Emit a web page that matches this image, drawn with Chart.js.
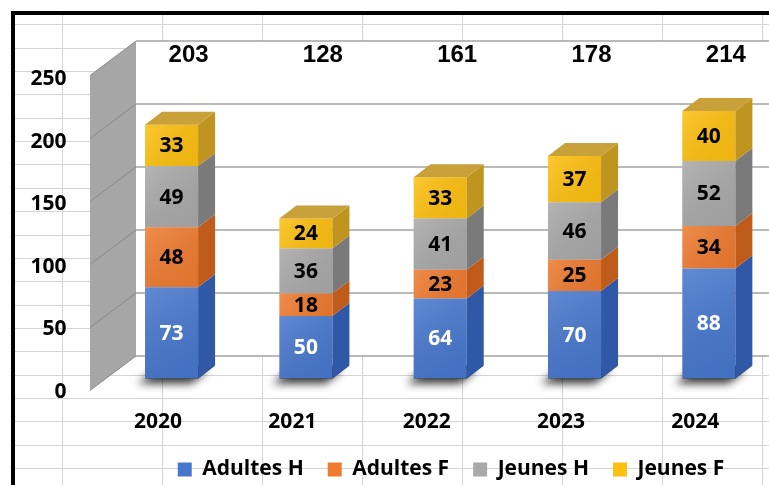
<!DOCTYPE html>
<html>
<head>
<meta charset="utf-8">
<script src="https://cdn.jsdelivr.net/npm/chart.js@4"></script>
<style>
  html, body { margin: 0; padding: 0; background: #fff; overflow: hidden; }
  #wrap { width: 769px; height: 485px; overflow: hidden; }
  canvas { display: block; }
</style>
</head>
<body>
<div id="wrap"><canvas id="myChart" width="902" height="490"></canvas></div>
<script>
const years = ['2020', '2021', '2022', '2023', '2024'];
const adultesH = [73, 50, 64, 70, 88];
const adultesF = [48, 18, 23, 25, 34];
const jeunesH = [49, 36, 41, 46, 52];
const jeunesF = [33, 24, 33, 37, 40];
const yTicks = [0, 50, 100, 150, 200, 250];

const FONT = '"Open Sans", sans-serif';
const fronts = ['#4777cc', '#ee7b30', '#a9a9a9', '#fdc010'];
const sides = ['#2f58a6', '#bf5c1b', '#7a7a7a', '#bf9520'];
const topFace = '#c9a13a';
const DX = 17, DY = -13;

// excel-ish background: sheet cells, frame, back wall, side wall
const backdrop = {
  id: 'backdrop',
  beforeDraw(chart) {
    const { ctx, chartArea: a } = chart;
    const y = chart.scales.y;
    const W = chart.width, H = chart.height;
    ctx.save();
    ctx.fillStyle = '#fff';
    ctx.fillRect(0, 0, W, H);

    ctx.strokeStyle = '#d4d4d4';
    ctx.lineWidth = 1;
    ctx.beginPath();
    for (let x = 62; x < W; x += 100) {
      ctx.moveTo(x + 0.5, 15);
      ctx.lineTo(x + 0.5, H);
    }
    for (let r = 1; 1 + r * 23.35 < H; r++) {
      const yy = Math.round(1 + r * 23.35) + 0.5;
      ctx.moveTo(15, yy);
      ctx.lineTo(W, yy);
    }
    ctx.stroke();

    ctx.fillStyle = '#000';
    ctx.fillRect(11, 11, W, 4);
    ctx.fillRect(11, 11, 4, H);

    const back = v => a.bottom - 22.5 + (y.getPixelForValue(v) - a.bottom) * 1.008;
    const xb = a.left + 31.6, xf = a.left - 14.4, wd = 34.5;
    const top = back(y.max), bot = back(y.min);

    ctx.fillStyle = '#fff';
    ctx.fillRect(xb, top, W - xb, bot - top);

    ctx.fillStyle = '#a6a6a6';
    ctx.beginPath();
    ctx.moveTo(xf, top + wd);
    ctx.lineTo(xb, top);
    ctx.lineTo(xb, bot);
    ctx.lineTo(xf, bot + wd);
    ctx.closePath();
    ctx.fill();

    y.ticks.forEach(t => {
      const yy = back(t.value);
      ctx.strokeStyle = '#a3a3a3';
      ctx.lineWidth = 1.6;
      ctx.beginPath();
      ctx.moveTo(xb, yy);
      ctx.lineTo(W, yy);
      ctx.stroke();
      ctx.strokeStyle = '#8c8c8c';
      ctx.lineWidth = 1;
      ctx.beginPath();
      ctx.moveTo(xf, yy + wd);
      ctx.lineTo(xb, yy);
      ctx.stroke();
    });
    ctx.restore();
  },
  beforeDatasetsDraw(chart) {
    // soft shadow on the floor under each column
    const ctx = chart.ctx;
    ctx.save();
    ctx.shadowColor = 'rgba(0,0,0,0.8)';
    ctx.shadowBlur = 9;
    ctx.shadowOffsetX = -7;
    ctx.shadowOffsetY = 5;
    ctx.fillStyle = '#333';
    chart.getDatasetMeta(0).data.forEach(bar => {
      const l = bar.x - bar.width / 2, r = bar.x + bar.width / 2, b = bar.base;
      ctx.beginPath();
      ctx.moveTo(l, b);
      ctx.lineTo(r, b);
      ctx.lineTo(r + DX, b + DY);
      ctx.lineTo(l + DX, b + DY);
      ctx.closePath();
      ctx.fill();
    });
    ctx.restore();
  }
};

// side / top faces, value labels, totals
const faces = {
  id: 'faces',
  afterDatasetsDraw(chart) {
    const ctx = chart.ctx;
    const n = chart.data.datasets.length;
    ctx.save();
    chart.data.datasets.forEach((ds, di) => {
      chart.getDatasetMeta(di).data.forEach(bar => {
        const l = bar.x - bar.width / 2, r = bar.x + bar.width / 2;
        const t = Math.min(bar.y, bar.base), b = Math.max(bar.y, bar.base);
        const g = ctx.createLinearGradient(l, t, r, b);
        g.addColorStop(0, 'rgba(255,255,255,0.14)');
        g.addColorStop(1, 'rgba(0,0,0,0.06)');
        ctx.fillStyle = g;
        ctx.fillRect(l, t, r - l, b - t);

        ctx.fillStyle = sides[di];
        ctx.beginPath();
        ctx.moveTo(r, t);
        ctx.lineTo(r + DX, t + DY);
        ctx.lineTo(r + DX, b + DY);
        ctx.lineTo(r, b);
        ctx.closePath();
        ctx.fill();

        if (di === n - 1) {
          ctx.fillStyle = topFace;
          ctx.beginPath();
          ctx.moveTo(l, t);
          ctx.lineTo(r, t);
          ctx.lineTo(r + DX, t + DY);
          ctx.lineTo(l + DX, t + DY);
          ctx.closePath();
          ctx.fill();
        }
      });
    });

    ctx.font = 'bold 21px ' + FONT;
    ctx.textAlign = 'center';
    ctx.textBaseline = 'middle';
    chart.data.datasets.forEach((ds, di) => {
      chart.getDatasetMeta(di).data.forEach((bar, i) => {
        ctx.fillStyle = di === 0 ? '#fff' : '#000';
        ctx.fillText(ds.data[i], bar.x, (bar.y + bar.base) / 2 + 1);
      });
    });

    const x = chart.scales.x;
    ctx.font = 'bold 24px "Liberation Sans", Arial, sans-serif';
    ctx.fillStyle = '#000';
    years.forEach((yr, i) => {
      const total = chart.data.datasets.reduce((s, ds) => s + ds.data[i], 0);
      ctx.fillText(total, x.getPixelForValue(i) + 17, 55);
    });
    ctx.restore();
  }
};

const ctx = document.getElementById('myChart');

new Chart(ctx, {
  type: 'bar',
  data: {
    labels: years,
    datasets: [
      { label: 'Adultes H', data: adultesH, backgroundColor: fronts[0] },
      { label: 'Adultes F', data: adultesF, backgroundColor: fronts[1] },
      { label: 'Jeunes H', data: jeunesH, backgroundColor: fronts[2] },
      { label: 'Jeunes F', data: jeunesF, backgroundColor: fronts[3] }
    ]
  },
  options: {
    responsive: false,
    animation: false,
    devicePixelRatio: 1,
    layout: { padding: { top: 66, left: 0, right: 0, bottom: 0 } },
    datasets: {
      bar: { categoryPercentage: 1, barPercentage: 0.395, borderWidth: 0 }
    },
    plugins: {
      legend: {
        position: 'bottom',
        labels: {
          boxWidth: 14,
          boxHeight: 14,
          padding: 24,
          color: '#000',
          font: { family: FONT, size: 21, weight: 'bold' }
        }
      },
      tooltip: { enabled: false }
    },
    scales: {
      x: {
        stacked: true,
        grid: { display: false, drawTicks: false },
        border: { display: false },
        ticks: {
          color: '#000',
          font: { family: FONT, size: 21, weight: 'bold' },
          labelOffset: -13.5,
          padding: 31,
          maxRotation: 0
        },
        afterFit: s => {
          const lh = s.chart.legend ? s.chart.legend.height : 0;
          s.height = s.chart.height - lh - 378.5;
        }
      },
      y: {
        stacked: true,
        min: 0,
        max: 250,
        afterBuildTicks: s => { s.ticks = yTicks.map(v => ({ value: v })); },
        grid: { display: false, drawTicks: false },
        border: { display: false },
        ticks: {
          color: '#000',
          font: { family: FONT, size: 21, weight: 'bold' },
          padding: 38,
          labelOffset: 13.5
        },
        afterFit: s => { s.width = 104.4; }
      },
      yR: {
        position: 'right',
        grid: { display: false, drawTicks: false },
        border: { display: false },
        ticks: { display: false },
        afterFit: s => { s.width = 126; }
      }
    }
  },
  plugins: [backdrop, faces]
});
</script>
</body>
</html>
